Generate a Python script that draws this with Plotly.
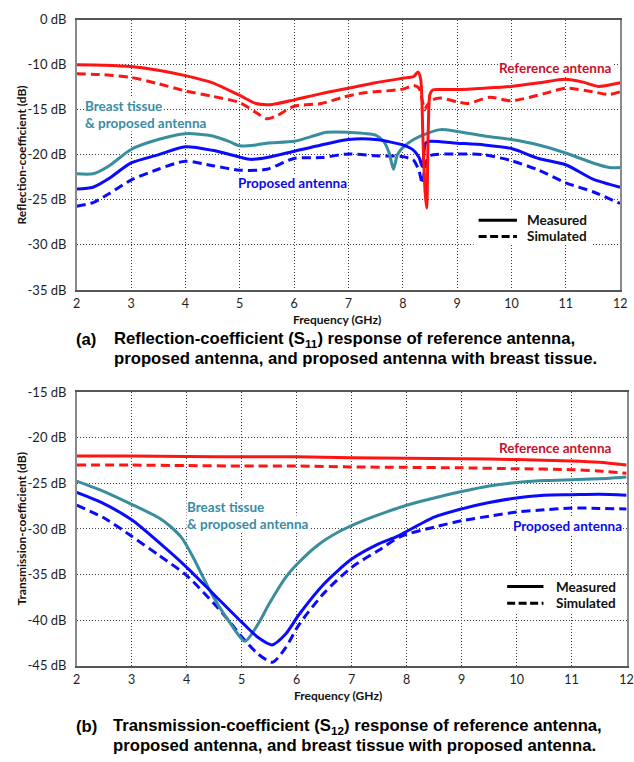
import plotly.graph_objects as go

W, H = 634, 762

# ---------------- data: (a) reflection coefficient S11 ----------------
s11_ref_meas_f = [2, 2.5, 3, 3.5, 4, 4.5, 5, 5.3, 5.6, 6, 6.5, 7, 7.5, 8, 8.2, 8.28,
                  8.33, 8.37, 8.41, 8.44, 8.47, 8.5, 8.55, 8.7, 9, 9.5, 10, 10.5, 11, 11.3, 11.6, 12]
s11_ref_meas = [-10.0, -10.05, -10.2, -10.6, -11.2, -12.0, -13.4, -14.3, -14.4, -13.9, -13.2, -12.6,
                -12.0, -11.5, -11.3, -10.8, -11.6, -18.0, -24.0, -25.9, -17.0, -13.3, -12.8, -12.75,
                -12.75, -12.6, -12.4, -12.0, -11.6, -11.9, -12.4, -12.0]

s11_ref_sim_f = [2, 2.5, 3, 3.5, 4, 4.5, 5, 5.3, 5.5, 5.7, 6, 6.5, 6.9, 7.2, 7.5, 8, 8.2, 8.3,
                 8.36, 8.4, 8.45, 8.55, 8.7, 9.0, 9.2, 9.6, 10, 10.6, 11, 11.5, 11.8, 12]
s11_ref_sim = [-11.0, -11.1, -11.4, -12.1, -12.9, -13.5, -14.2, -15.3, -16.0, -15.6, -14.6, -14.3,
               -13.6, -13.2, -13.0, -12.7, -12.3, -12.6, -14.0, -15.0, -14.5, -13.9, -13.7, -14.1,
               -14.3, -13.6, -14.0, -13.2, -12.6, -13.0, -13.3, -13.0]

s11_tis_f = [2, 2.3, 2.6, 3, 3.5, 4, 4.5, 4.8, 5, 5.3, 5.5, 6, 6.3, 6.6, 7, 7.5, 7.65, 7.75,
             7.83, 7.9, 8.0, 8.2, 8.5, 8.7, 9, 9.5, 10, 10.5, 11, 11.5, 11.8, 12]
s11_tis = [-22.1, -22.1, -21.2, -19.4, -18.3, -17.65, -17.9, -18.5, -19.0, -18.9, -18.7, -18.5,
           -18.0, -17.5, -17.5, -17.8, -18.5, -19.8, -21.6, -20.0, -19.2, -18.3, -17.5, -17.2,
           -17.4, -17.9, -18.3, -18.9, -19.8, -20.9, -21.4, -21.4]

s11_prop_meas_f = [2, 2.3, 2.6, 3, 3.5, 4, 4.5, 5, 5.2, 5.5, 6, 6.5, 7, 7.5, 8, 8.2, 8.3, 8.36,
                   8.42, 8.5, 9, 9.5, 10, 10.5, 11, 11.5, 12]
s11_prop_meas = [-23.8, -23.6, -22.6, -20.9, -20.0, -19.1, -19.5, -20.25, -20.5, -20.3, -19.6,
                 -18.9, -18.3, -18.3, -18.9, -19.5, -20.3, -21.3, -18.7, -18.5, -18.7, -18.9,
                 -19.3, -20.4, -21.1, -22.7, -23.6]

s11_prop_sim_f = [2, 2.3, 2.6, 3, 3.5, 4, 4.5, 5, 5.5, 6, 6.5, 7, 7.5, 8, 8.2, 8.3, 8.36, 8.42,
                  8.5, 9, 9.5, 10, 10.5, 11, 11.5, 12]
s11_prop_sim = [-25.7, -25.3, -24.3, -22.8, -21.6, -20.7, -21.2, -21.7, -21.6, -20.4, -20.3, -19.9,
                -20.1, -20.2, -20.6, -21.8, -23.2, -21.0, -20.1, -19.9, -20.0, -20.65, -21.7,
                -23.1, -24.1, -25.4]

# ---------------- data: (b) transmission coefficient S12 ----------------
s12_ref_f = [2, 3, 4, 5, 6, 7, 8, 9, 10, 11, 11.5, 12]
s12_ref_meas = [-22.0, -22.0, -22.05, -22.1, -22.1, -22.2, -22.25, -22.3, -22.4, -22.55, -22.7, -23.0]
s12_ref_sim = [-23.0, -23.0, -23.05, -23.1, -23.1, -23.2, -23.25, -23.3, -23.4, -23.5, -23.65, -23.9]

s12_tis_f = [2, 2.5, 3, 3.5, 3.7, 3.9, 4.1, 4.3, 4.5, 4.8, 5.06, 5.3, 5.5, 5.8, 6.0, 6.4, 6.8,
             7.2, 7.6, 8, 8.5, 9, 9.5, 10, 10.5, 11, 11.5, 11.8, 12]
s12_tis = [-24.75, -25.9, -27.3, -28.8, -29.7, -30.9, -32.9, -35.3, -37.6, -40.4, -42.3, -40.4,
           -38.2, -35.3, -33.9, -31.7, -30.2, -29.1, -28.2, -27.4, -26.6, -25.9, -25.3, -24.9,
           -24.7, -24.6, -24.5, -24.4, -24.3]

s12_prop_meas_f = [2, 2.5, 3, 3.5, 4, 4.5, 5, 5.3, 5.55, 5.8, 6.04, 6.5, 7, 7.5, 7.83, 8.5, 9,
                   9.5, 10, 10.5, 11, 11.5, 12]
s12_prop_meas = [-26.0, -27.25, -29.0, -31.5, -34.2, -37.2, -40.2, -41.9, -42.7, -41.5, -39.4,
                 -36.0, -33.3, -31.6, -30.8, -28.7, -27.8, -27.1, -26.6, -26.3, -26.25, -26.2, -26.3]

s12_prop_sim_f = [2, 2.5, 3, 3.5, 4, 4.5, 4.76, 5, 5.3, 5.56, 5.8, 6.04, 6.5, 7, 7.5, 7.9, 8.5,
                  9, 9.5, 10, 10.5, 11, 11.5, 12]
s12_prop_sim = [-27.4, -28.8, -30.8, -32.9, -35.1, -38.2, -40.0, -41.8, -43.7, -44.6, -43.0, -40.5,
                -37.0, -34.2, -32.3, -30.8, -29.8, -29.1, -28.6, -28.15, -27.9, -27.7, -27.75, -27.8]

# ---------------- ticks ----------------
freq_ticks = [2, 3, 4, 5, 6, 7, 8, 9, 10, 11, 12]
s11_tickvals = [-35, -30, -25, -20, -15, -10, -5]
s11_ticktext = ["-35 dB", "-30 dB", "-25 dB", "-20 dB", "-15 dB", "-10 dB", "0 dB"]
s12_tickvals = [-45, -40, -35, -30, -25, -20, -15]
s12_ticktext = ["-45 dB", "-40 dB", "-35 dB", "-30 dB", "-25 dB", "-20 dB", "-15 dB"]

RED = "#ff1414"
BLUE = "#0a0aff"
TEAL = "#3a8d9d"
RED_T = "#c8102a"
BLUE_T = "#0a0ae6"
TEAL_T = "#3a8ca3"
DASH = "9px,5px"
LW = 3

fig = go.Figure()

def add(f, v, color, dash, ax):
    fig.add_trace(go.Scatter(
        x=f, y=v, mode="lines", xaxis="x" if ax == 1 else "x2", yaxis="y" if ax == 1 else "y2",
        line=dict(color=color, width=LW, dash=dash, shape="spline", smoothing=0.7),
        showlegend=False, hoverinfo="skip"))

add(s11_ref_sim_f, s11_ref_sim, RED, DASH, 1)
add(s11_prop_sim_f, s11_prop_sim, BLUE, DASH, 1)
add(s11_tis_f, s11_tis, TEAL, "solid", 1)
add(s11_prop_meas_f, s11_prop_meas, BLUE, "solid", 1)
add(s11_ref_meas_f, s11_ref_meas, RED, "solid", 1)

add(s12_ref_f, s12_ref_sim, RED, DASH, 2)
add(s12_prop_sim_f, s12_prop_sim, BLUE, DASH, 2)
add(s12_tis_f, s12_tis, TEAL, "solid", 2)
add(s12_prop_meas_f, s12_prop_meas, BLUE, "solid", 2)
add(s12_ref_f, s12_ref_meas, RED, "solid", 2)

FONT = "Lato, Open Sans, sans-serif"
XTICKFONT = dict(family=FONT, size=12.5, color="#1e1e1e")
YTICKFONT = dict(family=FONT, size=13, color="#1e1e1e")
GRID = dict(showgrid=True, gridcolor="#3c3c3c", gridwidth=1, griddash="1px,2px", zeroline=False)

def px_x(p):
    return p / W

def px_y(p):
    return 1 - p / H

xcommon = dict(range=[2, 12], tickvals=freq_ticks, ticks="", tickfont=XTICKFONT, ticklabelstandoff=1,
               ticklabeloverflow="allow",
               showline=True, linecolor="#555555", linewidth=1.5, mirror=True, **GRID)
ycommon = dict(ticks="", tickfont=YTICKFONT, ticklabelstandoff=6,
               showline=True, linecolor="#8a8a8a", linewidth=1.5, mirror=True, **GRID)

fig.update_layout(
    width=W, height=H, autosize=False,
    margin=dict(l=0, r=0, t=0, b=0),
    paper_bgcolor="white", plot_bgcolor="white",
    xaxis=dict(domain=[px_x(74), px_x(627)], anchor="y", **xcommon),
    yaxis=dict(domain=[px_y(288), px_y(12)], anchor="x", range=[-35, -5],
               tickvals=s11_tickvals, ticktext=s11_ticktext, **ycommon),
    xaxis2=dict(domain=[px_x(74), px_x(633.6)], anchor="y2", **xcommon),
    yaxis2=dict(domain=[px_y(672), px_y(392.3)], anchor="x2", range=[-45, -15],
                tickvals=s12_tickvals, ticktext=s12_ticktext, **ycommon),
)

anns = []

def ann(x, y, text, size, color="#111111", bold=False, xanchor="center", bg=None,
        family=FONT, angle=0):
    d = dict(x=px_x(x), y=px_y(y), xref="paper", yref="paper", text=(f"<b>{text}</b>" if bold else text),
             showarrow=False, xanchor=xanchor, yanchor="middle", textangle=angle,
             font=dict(family=family, size=size, color=color), borderpad=0)
    if bg:
        d["bgcolor"] = bg
    anns.append(d)

# axis titles
ann(18, 150, "Reflection-coefficient (dB)", 12, bold=True, angle=-90)
ann(339, 318, "Frequency (GHz)", 12, bold=True)
ann(18, 532, "Transmission-coefficient (dB)", 12, bold=True, angle=-90)
ann(340, 702, "Frequency (GHz)", 12, bold=True)

# series labels (a)
ann(561, 61, "Reference antenna", 13.5, RED_T, True, "center", "white")
ann(81, 100, "Breast tissue", 13.5, TEAL_T, True, "left", "white")
ann(81, 117, "&amp; proposed antenna", 13.5, TEAL_T, True, "left", "white")
ann(237, 179, "Proposed antenna", 13.5, BLUE_T, True, "left", "white")
# series labels (b)
ann(561, 449, "Reference antenna", 13.5, RED_T, True, "center", "white")
ann(185, 510, "Breast tissue", 13.5, TEAL_T, True, "left", "white")
ann(185, 527, "&amp; proposed antenna", 13.5, TEAL_T, True, "left", "white")
ann(517, 529, "Proposed antenna", 13.5, BLUE_T, True, "left", "white")

# legends
shapes = []

def legend(x0, x1, xt, y1, y2, box):
    shapes.append(dict(type="rect", xref="paper", yref="paper", x0=px_x(box[0]), x1=px_x(box[1]),
                       y0=px_y(box[3]), y1=px_y(box[2]), fillcolor="white", line=dict(width=0),
                       layer="above"))
    shapes.append(dict(type="line", xref="paper", yref="paper", x0=px_x(x0), x1=px_x(x1),
                       y0=px_y(y1), y1=px_y(y1), line=dict(color="black", width=3), layer="above"))
    shapes.append(dict(type="line", xref="paper", yref="paper", x0=px_x(x0), x1=px_x(x1),
                       y0=px_y(y2), y1=px_y(y2), line=dict(color="black", width=3, dash="8px,3.5px"),
                       layer="above"))
    ann(xt, y1, "Measured", 13.5, "#111111", True, "left")
    ann(xt, y2, "Simulated", 13.5, "#111111", True, "left")

legend(483, 522, 531, 216.7, 233.3, (478, 598, 206, 242))
legend(512, 549, 561, 591, 608, (506, 631, 581, 617))

# captions
CAP = "Liberation Sans, Arial, sans-serif"
CS = 16.7
ann(72, 339, "(a)", CS, "#000000", True, "left", family=CAP)
ann(111, 339, "Reflection-coefficient (S<sub>11</sub>) response of reference antenna,", CS,
    "#000000", True, "left", family=CAP)
ann(111, 358, "proposed antenna, and proposed antenna with breast tissue.", CS,
    "#000000", True, "left", family=CAP)
ann(72, 734, "(b)", CS, "#000000", True, "left", family=CAP)
ann(110, 734, "Transmission-coefficient (S<sub>12</sub>) response of reference antenna,", CS,
    "#000000", True, "left", family=CAP)
ann(110, 753, "proposed antenna, and breast tissue with proposed antenna.", CS,
    "#000000", True, "left", family=CAP)

fig.update_layout(annotations=anns, shapes=shapes)
fig.write_html("out.html")
